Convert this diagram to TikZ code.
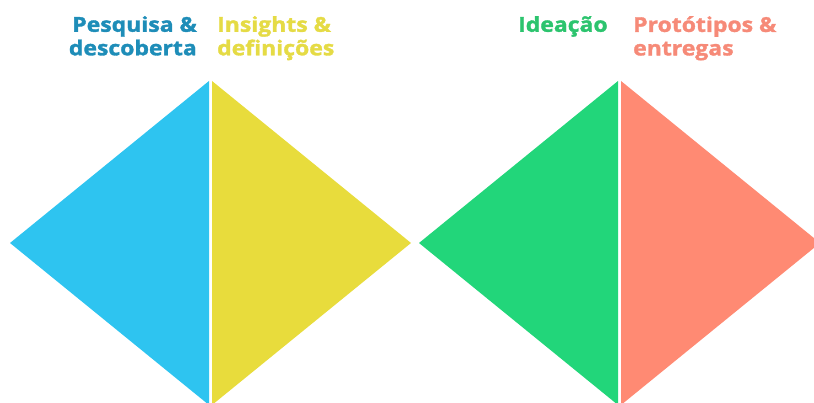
\documentclass[tikz,border=0pt]{standalone}
\usepackage{fontspec}
\setmainfont{Open Sans}[BoldFont={* Bold}, BoldFeatures={FakeBold=1.6, FakeStretch=1.12}]
\definecolor{cblue}{HTML}{2EC4F0}
\definecolor{cyellow}{HTML}{E8DC3C}
\definecolor{cgreen}{HTML}{22D67A}
\definecolor{csalmon}{HTML}{FF8A73}
\definecolor{tblue}{HTML}{1E8DB8}
\definecolor{tyellow}{HTML}{E5DB45}
\definecolor{tgreen}{HTML}{2CC46E}
\definecolor{tsalmon}{HTML}{F68A78}
\tikzset{
  lbl/.style={font=\bfseries\fontsize{20.5}{23.5}\selectfont, inner sep=0pt},
}
\begin{document}
\begin{tikzpicture}[x=1pt,y=1pt]
\useasboundingbox (0,0) rectangle (814,403);
% left diamond (y = 403 - pixel)
\fill[cblue] (10,160) -- (209,322) -- (209,-2) -- cycle;
\fill[cyellow] (212,322) -- (411,160) -- (212,-2) -- cycle;
% right diamond
\fill[cgreen] (419,160) -- (618,322) -- (618,-2) -- cycle;
\fill[csalmon] (621,322) -- (820,160) -- (621,-2) -- cycle;
% labels
\node[lbl, text=tblue, align=right, anchor=north east] (t1) at (197,387) {Pesquisa \&\\descoberta};
\node[lbl, text=tyellow, align=left, anchor=north west] (t2) at (217,387) {Insights \&\\definições};
\node[lbl, text=tgreen, align=left, anchor=north west] (t3) at (518,387) {Ideação};
\node[lbl, text=tsalmon, align=left, anchor=north west] (t4) at (633,387) {Protótipos \&\\entregas};
\end{tikzpicture}
\end{document}
